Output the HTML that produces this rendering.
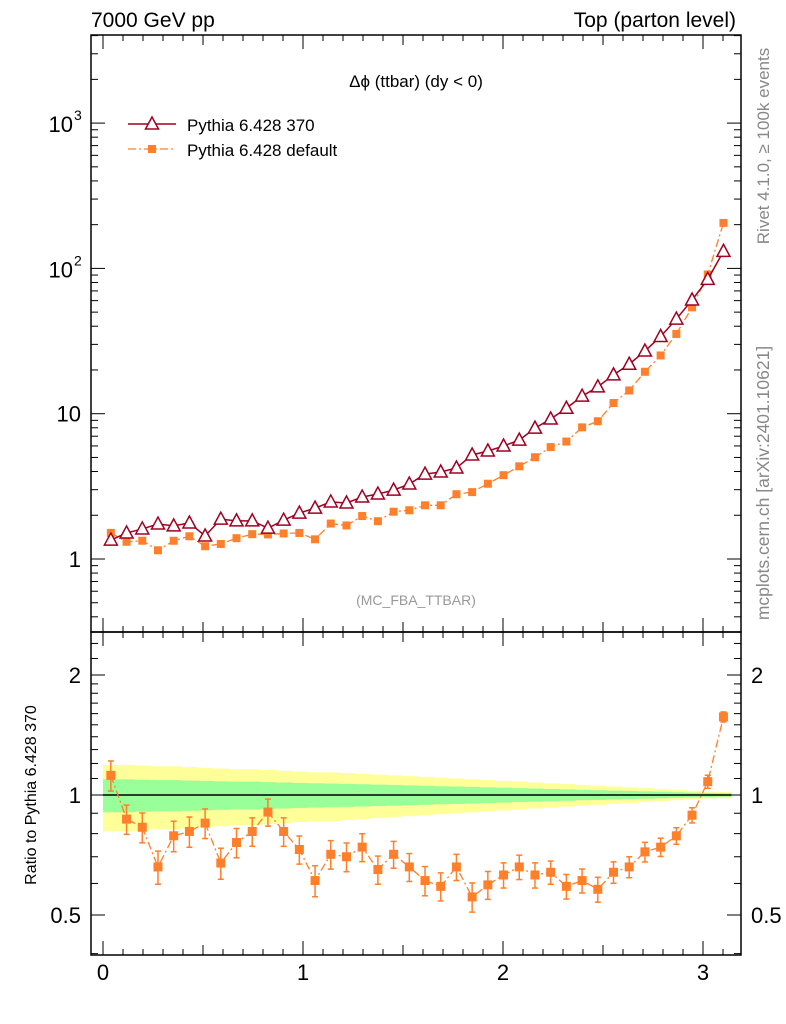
<!DOCTYPE html>
<html><head><meta charset="utf-8">
<style>
html,body{margin:0;padding:0;background:#fff;}
svg{display:block;font-family:"Liberation Sans",sans-serif;}
</style></head>
<body>
<svg id="chart" width="786" height="1024" viewBox="0 0 786 1024" xmlns="http://www.w3.org/2000/svg"></svg>
<script>
const binCount = 40;
const mc370 = [1.35,1.51,1.61,1.74,1.69,1.77,1.44,1.88,1.83,1.83,1.63,1.85,2.07,2.24,2.47,2.43,2.67,2.80,2.98,3.28,3.84,3.97,4.23,5.20,5.54,5.99,6.58,7.96,9.2,10.9,13.2,15.3,18.5,21.9,27,34,44.8,60.6,84,131];
const ratioDefault = [1.12,0.87,0.83,0.66,0.79,0.81,0.85,0.675,0.76,0.81,0.906,0.81,0.73,0.61,0.71,0.70,0.74,0.65,0.71,0.66,0.61,0.59,0.66,0.555,0.595,0.63,0.66,0.63,0.64,0.59,0.61,0.58,0.64,0.66,0.72,0.74,0.79,0.89,1.08,1.57];
const ratioErr = [0.06,0.05,0.05,0.05,0.05,0.05,0.05,0.045,0.045,0.045,0.045,0.045,0.04,0.04,0.04,0.04,0.04,0.035,0.035,0.035,0.035,0.03,0.03,0.03,0.03,0.025,0.025,0.025,0.02,0.02,0.02,0.02,0.015,0.015,0.015,0.012,0.01,0.01,0.01,0.01];
const yellowBand = [0.19,0.19,0.185,0.18,0.18,0.175,0.17,0.165,0.16,0.16,0.155,0.15,0.145,0.14,0.14,0.135,0.13,0.125,0.12,0.115,0.11,0.105,0.1,0.095,0.09,0.085,0.08,0.075,0.07,0.065,0.06,0.055,0.05,0.045,0.04,0.035,0.03,0.025,0.02,0.018];
const greenBand = [0.095,0.095,0.092,0.09,0.09,0.087,0.085,0.082,0.08,0.08,0.077,0.075,0.072,0.07,0.068,0.066,0.064,0.062,0.06,0.057,0.055,0.052,0.05,0.048,0.045,0.043,0.04,0.038,0.035,0.033,0.03,0.028,0.026,0.024,0.021,0.019,0.016,0.014,0.012,0.01];
const xTicks = [0,1,2,3];
const yMainTicks = [{v:1,t:"1"},{v:10,t:"10"},{v:100,t:"10²"},{v:1000,t:"10³"}];
const yRatioTicks = [{v:0.5,t:"0.5"},{v:1,t:"1"},{v:2,t:"2"}];

const L=91,R=741,T=35,M=632,B=955;
const X = v => 103 + 200*v;
const Ym = v => 559 - 145.3*Math.log10(v);
const Yr = v => 795 - 120*Math.log2(v);
const NS="http://www.w3.org/2000/svg";
const svg=document.getElementById('chart');
function el(tag,attrs,parent){const e=document.createElementNS(NS,tag);for(const k in attrs)e.setAttribute(k,attrs[k]);(parent||svg).appendChild(e);return e;}
function txt(s,attrs,parent){const e=el('text',attrs,parent);e.textContent=s;return e;}

const W = Math.PI/binCount;
const edges = i => i*W;

const gBands=el('g',{});


for(let i=0;i<binCount;i++){
  const x0=X(edges(i)), x1=X(edges(i+1));
  const y=el('rect',{x:x0,y:Yr(1+yellowBand[i]),width:x1-x0+0.5,height:Yr(1-yellowBand[i])-Yr(1+yellowBand[i]),fill:'#ffff99'},gBands);
  
  
}
for(let i=0;i<binCount;i++){
  const x0=X(edges(i)), x1=X(edges(i+1));
  const g=el('rect',{x:x0,y:Yr(1+greenBand[i]),width:x1-x0+0.5,height:Yr(1-greenBand[i])-Yr(1+greenBand[i]),fill:'#99ff99'},gBands);
  
  
}
const ref=el('line',{x1:X(0),x2:X(Math.PI),y1:Yr(1),y2:Yr(1),stroke:'#000','stroke-width':1.5});



const f1=el('rect',{x:L,y:T,width:R-L,height:M-T,fill:'none',stroke:'#000','stroke-width':1.5});


const f2=el('rect',{x:L,y:M,width:R-L,height:B-M,fill:'none',stroke:'#000','stroke-width':1.5});



const gt=el('g',{stroke:'#000','stroke-width':1});
for(let k=-0.0;k<=3.15;k+=0.1){
  const v=Math.round(k*10)/10, x=X(v);
  const major=Math.abs(v-Math.round(v))<1e-6, mid=Math.abs(v*2-Math.round(v*2))<1e-6;
  const len=major?14:(mid?10:6);
  [T,M].forEach(yy=>{el('line',{x1:x,x2:x,y1:yy,y2:yy+len},gt);});
  [M,B].forEach(yy=>{el('line',{x1:x,x2:x,y1:yy,y2:yy-len},gt);});
}
xTicks.forEach(v=>{const t=txt(String(v),{x:X(v),y:980,'font-size':22,'text-anchor':'middle'});
});

for(let d=-1;d<=3;d++){for(let m=1;m<10;m++){const v=m*Math.pow(10,d);const y=Ym(v);if(y<T||y>M)continue;
 const len=m===1?14:7;el('line',{x1:L,x2:L+len,y1:y,y2:y},gt);el('line',{x1:R,x2:R-len,y1:y,y2:y},gt);}}
yMainTicks.forEach(o=>{let t;
 if(o.v>=100){t=txt('10',{x:73,y:Ym(o.v)+9,'font-size':22,'text-anchor':'end'});const s=txt(o.v===100?'2':'3',{x:74,y:Ym(o.v)-3,'font-size':14});}
 else t=txt(o.t,{x:81,y:Ym(o.v)+8,'font-size':22,'text-anchor':'end'});
 });

[0.4,0.5,0.6,0.7,0.8,0.9,1,1.1,1.2,1.3,1.4,1.5,1.6,1.7,1.8,1.9,2,2.2,2.4].forEach(v=>{const y=Yr(v);if(y<M||y>B)return;
 const len=(v===0.5||v===1||v===2)?14:7;el('line',{x1:L,x2:L+len,y1:y,y2:y},gt);el('line',{x1:R,x2:R-len,y1:y,y2:y},gt);});
yRatioTicks.forEach(o=>{const t=txt(o.t,{x:81,y:Yr(o.v)+8,'font-size':22,'text-anchor':'end'});
 const t2=txt(o.t,{x:751,y:Yr(o.v)+8,'font-size':22});});

const cx=i=>X((i+0.5)*W);
const defC='#ff7f2a', redC='#a00020';
const defVals=mc370.map((v,i)=>v*ratioDefault[i]);
let p='';defVals.forEach((v,i)=>{p+=(i?'L':'M')+cx(i)+','+Ym(v);});
const dl=el('path',{d:p,fill:'none',stroke:defC,'stroke-width':1.3,'stroke-dasharray':'8,3,2,3'});

defVals.forEach((v,i)=>{const e=v*ratioErr[i];
 const eb=el('line',{x1:cx(i),x2:cx(i),y1:Ym(v+e),y2:Ym(Math.max(v-e,0.01)),stroke:defC,'stroke-width':1.5});
 
 const m=el('rect',{x:cx(i)-4,y:Ym(v)-4,width:8,height:8,fill:defC});
 });
p='';mc370.forEach((v,i)=>{p+=(i?'L':'M')+cx(i)+','+Ym(v);});
const rl=el('path',{d:p,fill:'none',stroke:redC,'stroke-width':1.5});

mc370.forEach((v,i)=>{const x=cx(i),y=Ym(v);
 const m=el('polygon',{points:`${x},${y-7} ${x-6.5},${y+5} ${x+6.5},${y+5}`,fill:'#fff',stroke:redC,'stroke-width':1.5});
 });
p='';ratioDefault.forEach((v,i)=>{p+=(i?'L':'M')+cx(i)+','+Yr(v);});
const rr=el('path',{d:p,fill:'none',stroke:defC,'stroke-width':1.3,'stroke-dasharray':'8,3,2,3'});

ratioDefault.forEach((v,i)=>{const e=v*ratioErr[i]*1.0+0.03;const x=cx(i);
 const eb=el('line',{x1:x,x2:x,y1:Yr(v+e),y2:Yr(v-e),stroke:defC,'stroke-width':1.5});
 
 [v+e,v-e].forEach(q=>{const c=el('line',{x1:x-3,x2:x+3,y1:Yr(q),y2:Yr(q),stroke:defC,'stroke-width':1.5});});
 const m=el('rect',{x:x-4.5,y:Yr(v)-4.5,width:9,height:9,fill:defC});
 });

const lg=el('g',{});

el('line',{x1:128,x2:176,y1:124,y2:124,stroke:redC,'stroke-width':1.5},lg);
el('polygon',{points:'152,117 145.5,129 158.5,129',fill:'#fff',stroke:redC,'stroke-width':1.5},lg);
txt('Pythia 6.428 370',{x:187,y:131,'font-size':17},lg);
el('line',{x1:128,x2:176,y1:149,y2:149,stroke:defC,'stroke-width':1.3,'stroke-dasharray':'8,3,2,3'},lg);
el('rect',{x:148,y:145,width:8,height:8,fill:defC},lg);
txt('Pythia 6.428 default',{x:187,y:156,'font-size':17},lg);

const t1=txt('7000 GeV pp',{x:91,y:27,'font-size':21});
const t2=txt('Top (parton level)',{x:736,y:27,'font-size':21,'text-anchor':'end'});
const t3=txt('Δϕ (ttbar) (dy < 0)',{x:416,y:87,'font-size':17,'text-anchor':'middle'});
const t4=txt('(MC_FBA_TTBAR)',{x:416,y:605,'font-size':14,'text-anchor':'middle',fill:'#999'});
const t5=txt('Ratio to Pythia 6.428 370',{x:0,y:0,'font-size':16,'text-anchor':'middle',transform:'translate(36,795) rotate(-90)'});
const t6=txt('Rivet 4.1.0, ≥ 100k events',{x:0,y:0,'font-size':17,fill:'#888','text-anchor':'middle',transform:'translate(769,146) rotate(-90)'});
const t7=txt('mcplots.cern.ch [arXiv:2401.10621]',{x:0,y:0,'font-size':17.5,fill:'#888','text-anchor':'middle',transform:'translate(769,483) rotate(-90)'});
</script>
</body></html>
